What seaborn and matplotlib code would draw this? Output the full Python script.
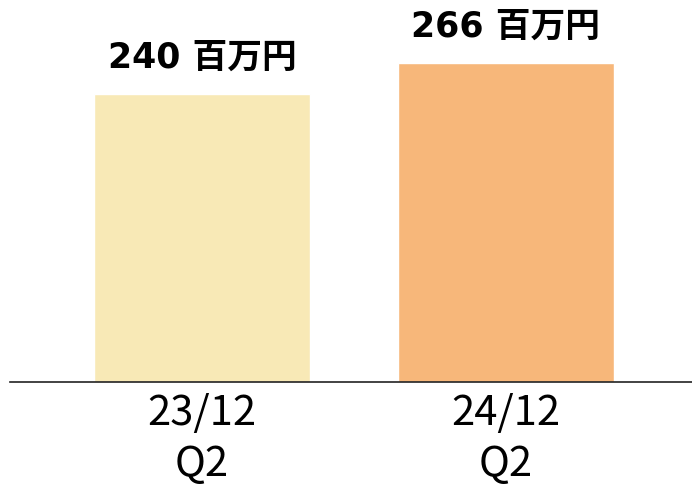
import matplotlib
matplotlib.use("Agg")
import matplotlib.pyplot as plt
import seaborn as sns
import pandas as pd

periods = ["23/12\nQ2", "24/12\nQ2"]
sales = [240, 266]
bar_colors = ["#F8E9B6", "#F7B77A"]
unit = "百万円"

sns.set_theme(style="white")
plt.rcParams['font.family'] = ['Noto Sans CJK JP', 'DejaVu Sans']

df = pd.DataFrame({"period": periods, "sales": sales})

fig = plt.figure(figsize=(6.92, 4.91), dpi=100)
ax = fig.add_axes([10 / 692, (491 - 382) / 491, 682 / 692, 382 / 491])

sns.barplot(data=df, x="period", y="sales", hue="period", palette=bar_colors,
            width=0.712, legend=False, ax=ax, saturation=1)

ax.set_xlim(-0.633, 1.614)
ax.set_ylim(0, 318.3)

# value labels above the bars
for i, v in enumerate(sales):
    ax.annotate(f"{v} {unit}", xy=(i, v), xytext=(0, 14), textcoords="offset points",
                ha="center", va="bottom", fontsize=25, fontweight="bold", color="black",
                family=['DejaVu Sans', 'Noto Sans CJK JP'])

for s in ["top", "right", "left"]:
    ax.spines[s].set_visible(False)
ax.spines["bottom"].set_color("#222222")
ax.spines["bottom"].set_linewidth(1.2)

ax.set_xlabel("")
ax.set_ylabel("")
ax.set_yticks([])
ax.tick_params(axis="x", length=0, pad=8, labelsize=30, labelcolor="black")
for lbl in ax.get_xticklabels():
    lbl.set_linespacing(1.3)

fig.savefig("out.png", dpi=100)
